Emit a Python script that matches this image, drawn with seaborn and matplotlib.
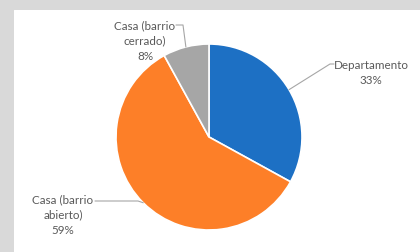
import numpy as np
import matplotlib
matplotlib.use("Agg")
import matplotlib.pyplot as plt
import seaborn as sns

# Data
labels = ["Departamento", "Casa (barrio\nabierto)", "Casa (barrio\ncerrado)"]
shares = [33, 59, 8]
colors = ["#1D70C4", "#FD7F28", "#A6A6A6"]

# label centres, leader bends and leader ends (axes coords, y up)
label_pos = [(371, 179), (63, 37), (145, 211)]
bends = [(330, 188), (138, 51), (183, 227)]
ends = [(334, 188), (95, 51), (176, 227)]

sns.set_theme(style="white")
plt.rcParams["font.family"] = ["Lato", "DejaVu Sans"]

fig = plt.figure(figsize=(4.2, 2.52), dpi=100)
fig.patch.set_facecolor("#D9D9D9")

ax = fig.add_axes([14 / 420, 0, 1 - 14 / 420, 1 - 10 / 252])
ax.set_axis_off()
ax.add_patch(plt.Rectangle((14, 0), 406, 242, color="white", zorder=0))

cx, cy, r = 209, 115, 93
wedges, _ = ax.pie(shares, colors=colors, startangle=90, counterclock=False,
                   center=(cx, cy), radius=r,
                   wedgeprops=dict(edgecolor="white", linewidth=1.2))
ax.set_xlim(14, 420)
ax.set_ylim(0, 242)
ax.set_aspect("equal")

cum = np.cumsum([0] + shares) / sum(shares)
for i, (lab, val) in enumerate(zip(labels, shares)):
    mid = np.deg2rad(90 - (cum[i] + cum[i + 1]) / 2 * 360)
    ex, ey = cx + r * np.cos(mid), cy + r * np.sin(mid)
    bx, by = bends[i]
    fx, fy = ends[i]
    ax.plot([ex, bx, fx], [ey, by, fy], color="#A6A6A6", lw=0.8)
    tx, ty = label_pos[i]
    ax.text(tx, ty, f"{lab}\n{val}%", ha="center", va="center",
            fontsize=8.4, color="#595959", linespacing=1.5)

fig.savefig("out.png", dpi=100, facecolor=fig.get_facecolor())
